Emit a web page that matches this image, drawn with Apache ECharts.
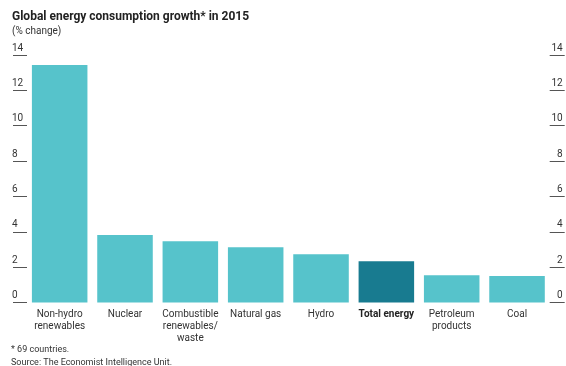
<!DOCTYPE html>
<html>
<head>
<meta charset="utf-8">
<script src="https://cdn.jsdelivr.net/npm/echarts@6/dist/echarts.min.js"></script>
<style>
html,body{margin:0;padding:0;background:#fff;}
#c{width:566px;height:366px;}
</style>
</head>
<body>
<div id="c"></div>
<script>
const categories = ["Non-hydro\nrenewables", "Nuclear", "Combustible\nrenewables/\nwaste", "Natural gas", "Hydro", "Total energy", "Petroleum\nproducts", "Coal"];
const values = [13.43, 3.82, 3.46, 3.12, 2.73, 2.33, 1.54, 1.5];
const highlight = "Total energy";
const yTicks = [0, 2, 4, 6, 8, 10, 12, 14];

const FONT = "Roboto";
const LIGHT = "#56c3cb";
const DARK = "#187b90";

const chart = echarts.init(document.getElementById('c'), null, {renderer: 'canvas'});

const yAxisCommon = {
  type: 'value',
  min: yTicks[0],
  max: yTicks[yTicks.length - 1],
  interval: 2,
  splitLine: {show: false},
  axisLine: {show: false},
  axisTick: {show: true, length: 14, lineStyle: {color: '#555', width: 1}},
};

chart.setOption({
  animation: false,
  textStyle: {fontFamily: FONT},
  title: {
    text: 'Global energy consumption growth* in 2015',
    subtext: '(% change)',
    left: 7,
    top: 6,
    itemGap: 3,
    textStyle: {fontFamily: FONT, fontWeight: 'bold', fontSize: 12, color: '#222'},
    subtextStyle: {fontFamily: FONT, fontSize: 10, color: '#333'}
  },
  grid: {left: 27, right: 16.3, top: 55, bottom: 63.5, containLabel: false},
  xAxis: {
    type: 'category',
    data: categories,
    axisLine: {show: false},
    axisTick: {show: false},
    axisLabel: {
      interval: 0,
      margin: 6,
      fontSize: 10,
      lineHeight: 12,
      color: '#333',
      fontFamily: FONT,
      formatter: function (v) { return v === highlight ? '{b|' + v + '}' : v; },
      rich: {b: {fontWeight: 'bold', fontSize: 10, color: '#222', fontFamily: FONT}}
    }
  },
  yAxis: [
    Object.assign({}, yAxisCommon, {
      position: 'left',
      axisLabel: {align: 'left', verticalAlign: 'bottom', margin: 15, padding: [0, 0, 2, 0], fontSize: 10, color: '#333', fontFamily: FONT}
    }),
    Object.assign({}, yAxisCommon, {
      position: 'right',
      axisTick: {show: true, length: 15, lineStyle: {color: '#555', width: 1}},
      axisLabel: {align: 'right', verticalAlign: 'bottom', margin: 13, padding: [0, 0, 2, 0], fontSize: 10, color: '#333', fontFamily: FONT}
    })
  ],
  series: [{
    type: 'bar',
    yAxisIndex: 0,
    barCategoryGap: '15%',
    data: values.map(function (v, i) {
      return {value: v, itemStyle: {color: categories[i] === highlight ? DARK : LIGHT}};
    })
  }],
  graphic: [
    {type: 'text', left: 11, top: 345, style: {text: '* 69 countries.', font: '9px ' + FONT, fill: '#333'}},
    {type: 'text', left: 11, top: 358, style: {text: 'Source: The Economist Intelligence Unit.', font: '9px ' + FONT, fill: '#333'}}
  ]
});
</script>
</body>
</html>
